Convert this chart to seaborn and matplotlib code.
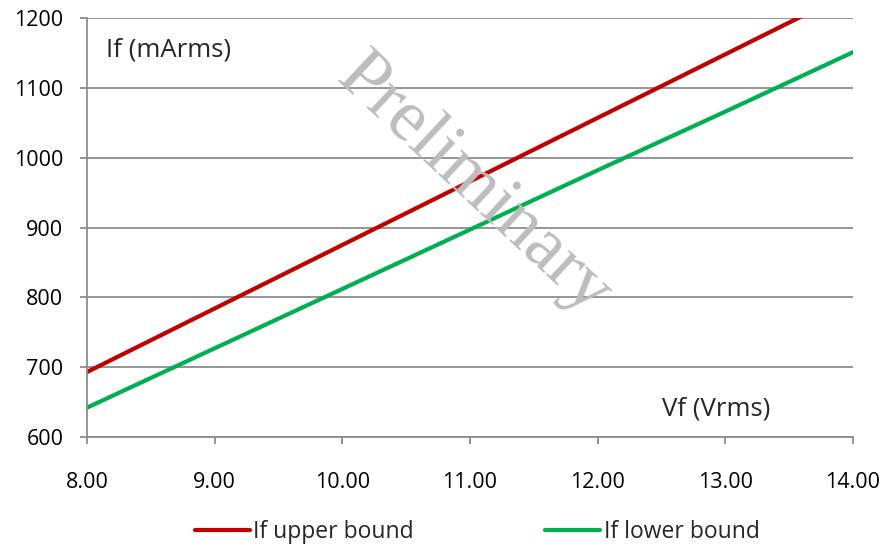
import matplotlib
matplotlib.use("Agg")
import matplotlib.pyplot as plt
import seaborn as sns
import pandas as pd

vf = [8, 9, 10, 11, 12, 13, 14]
upper = [693, 784, 875, 966, 1057, 1148, 1239]
lower = [642, 727, 812, 897, 982, 1066, 1151]
series_names = ["If upper bound", "If lower bound"]
x_ticks = [8, 9, 10, 11, 12, 13, 14]
y_ticks = [600, 700, 800, 900, 1000, 1100, 1200]

df = pd.DataFrame({
    "Vf": vf * 2,
    "If": upper + lower,
    "series": [series_names[0]] * len(vf) + [series_names[1]] * len(vf),
})

sns.set_style("white")
plt.rcParams["font.family"] = ["Open Sans", "DejaVu Sans"]

fig = plt.figure(figsize=(8.86, 5.48), dpi=100)
ax = fig.add_axes([87 / 886, 1 - 437 / 548, (853 - 87) / 886, (437 - 18) / 548])

palette = {series_names[0]: "#C00000", series_names[1]: "#00B050"}
sns.lineplot(data=df, x="Vf", y="If", hue="series", palette=palette,
             linewidth=3.0, ax=ax, legend=True)

ax.set_xlim(8, 14)
ax.set_ylim(600, 1200)
ax.set_xticks(x_ticks)
ax.set_xticklabels([f"{t:.2f}" for t in x_ticks])
ax.set_yticks(y_ticks)
ax.set_yticklabels([str(t) for t in y_ticks])
ax.set_xlabel("")
ax.set_ylabel("")

gc = "#8c8c8c"
ax.yaxis.grid(True, color=gc, linewidth=1.3)
ax.xaxis.grid(False)
ax.set_axisbelow(True)
for s in ["top", "right"]:
    ax.spines[s].set_visible(False)
for s in ["left", "bottom"]:
    ax.spines[s].set_color(gc)
    ax.spines[s].set_linewidth(1.3)

ax.tick_params(axis="y", which="both", left=True, length=5, width=1.3,
               color=gc, pad=12, labelsize=15.5, labelcolor="black")
ax.tick_params(axis="x", which="both", bottom=True, length=5, width=1.3,
               color=gc, pad=20, labelsize=15.5, labelcolor="black")

fig.text(106 / 886, 1 - 50 / 548, "If (mArms)",
         fontsize=18.5, ha="left", va="center")
fig.text(662 / 886, 1 - 409 / 548, "Vf (Vrms)",
         fontsize=18.5, ha="left", va="center")

fig.text(474 / 886, 1 - 186 / 548, "Preliminary", rotation=-43,
         fontsize=53, family="Liberation Serif", color="#bdbdbd",
         ha="center", va="center", rotation_mode="anchor")

h, l = ax.get_legend_handles_labels()
ax.get_legend().remove()
fig.legend(h, l, loc="center", bbox_to_anchor=(477 / 886, 1 - 532 / 548),
           ncol=2, frameon=False, fontsize=16.5, handlelength=2.4,
           handletextpad=0.17, columnspacing=5.7)

fig.savefig("out.png", dpi=100)
